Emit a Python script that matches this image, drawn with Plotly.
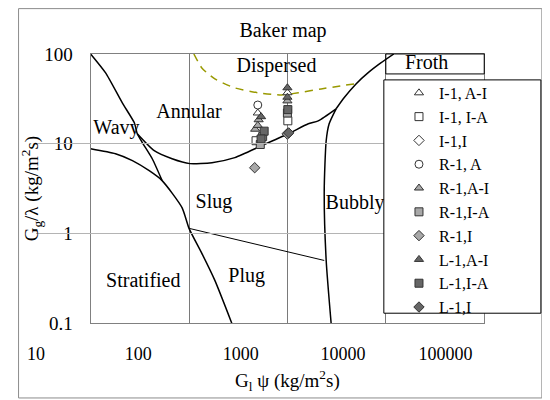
import plotly.graph_objects as go

# ---------------- data ----------------
# Baker map boundary curves  (x = G_l*psi, y = G_g/lambda)
wavy_x = [10, 14.2, 21.0, 27.8, 29.8, 33.5, 42.3, 53.3]
wavy_y = [100, 61.5, 28.5, 17.1, 12.9, 10.3, 6.8, 3.88]

annular_x = [29.8, 44.3, 67.3, 102, 171, 292, 546, 1023, 1630, 2056, 3126]
annular_y = [12.9, 8.36, 6.8, 6.0, 6.15, 7.0, 9.5, 12.9, 16.7, 18.0, 24.5]

strat_x = [10, 17.9, 26.6, 39.4, 53.3, 84.9, 100, 135, 183, 272]
strat_y = [8.8, 7.74, 6.48, 5.0, 3.88, 1.94, 1.14, 0.6, 0.30, 0.1]

plug_x = [100, 2366]
plug_y = [1.14, 0.5]

bubbly_x = [2781, 2477, 2366, 2477, 2655, 3126]
bubbly_y = [0.1, 0.5, 3.0, 10.8, 16.7, 24.5]

froth_x = [3126, 3766, 4977, 6578, 8892, 12050]
froth_y = [24.5, 32.5, 46.4, 61.5, 79.4, 100]

dispersed_x = [112, 135, 183, 292, 509, 869, 1291, 2203, 4754]
dispersed_y = [100, 69.9, 52.7, 41.9, 36.9, 35.0, 36.9, 40.8, 46.4]

# measured points
series_names = ["I-1, A-I", "I-1, I-A", "I-1,I", "R-1, A", "R-1,A-I",
                "R-1,I-A", "R-1,I", "L-1,A-I", "L-1,I-A", "L-1,I"]
series_x = [
    [1000, 500],
    [1010, 480],
    [1000],
    [500],
    [1000, 470, 510, 500],
    [560, 530, 1000],
    [465, 1000],
    [1000, 1000, 540],
    [580, 540, 1010],
    [1030],
]
series_y = [
    [37, 22],
    [18, 10.8],
    [13],
    [27],
    [30, 14.5, 18.5, 16],
    [12, 9.8, 22],
    [5.4, 12.8],
    [42, 33, 20],
    [13.8, 11.3, 24],
    [13.2],
]

# flow-regime labels
region_names = ["Dispersed", "Annular", "Wavy", "Slug", "Bubbly", "Stratified", "Plug", "Froth"]
region_x = [774, 100, 18.3, 179, 4867, 34.3, 385, 26000]
region_y = [71.7, 22.1, 14.7, 2.21, 2.15, 0.285, 0.325, 77.4]

x_tick_vals = [10, 100, 1000, 10000, 100000]
x_tick_labels = ["10", "100", "1000", "10000", "100000"]
y_tick_vals = [0.1, 1, 10, 100]
y_tick_labels = ["0.1", "1", "10", "100"]

# ---------------- styles ----------------
FONT = "Liberation Serif, Times New Roman, serif"
symbols = ["triangle-up", "square", "diamond", "circle", "triangle-up",
           "square", "diamond", "triangle-up", "square", "diamond"]
WHITE, LIGHT, DARK = "#ffffff", "#a8a8a8", "#666666"
fills = [WHITE, WHITE, WHITE, WHITE, LIGHT, LIGHT, LIGHT, DARK, DARK, DARK]

fig = go.Figure()

for cx, cy, w in [(wavy_x, wavy_y, 1.5), (annular_x, annular_y, 1.5),
                  (strat_x, strat_y, 1.5), (plug_x, plug_y, 1.0),
                  (bubbly_x, bubbly_y, 1.5), (froth_x, froth_y, 1.5)]:
    fig.add_trace(go.Scatter(x=cx, y=cy, mode="lines",
                             line=dict(color="black", width=w, shape="spline", smoothing=0.6),
                             showlegend=False, hoverinfo="skip"))
fig.add_trace(go.Scatter(x=dispersed_x, y=dispersed_y, mode="lines",
                         line=dict(color="#999900", width=1.5, dash="8px,6px",
                                   shape="spline", smoothing=0.6),
                         showlegend=False, hoverinfo="skip"))

for i, name in enumerate(series_names):
    fig.add_trace(go.Scatter(
        x=series_x[i], y=series_y[i], mode="markers", name=name,
        legendgroup=f"g{i}",
        marker=dict(symbol=symbols[i], size=8, color=fills[i],
                    line=dict(color="#333333", width=1)),
    ))

# region labels as a text trace
fig.add_trace(go.Scatter(x=region_x, y=region_y, mode="text", text=region_names,
                         textposition="middle center", cliponaxis=False,
                         textfont=dict(family=FONT, size=20, color="black"),
                         showlegend=False, hoverinfo="skip"))

# invisible helper trace so the label axis (x2) is drawn
fig.add_trace(go.Scatter(x=[10], y=[1], xaxis="x2", yaxis="y", mode="markers",
                         marker=dict(opacity=0), showlegend=False, hoverinfo="skip"))

# picture-pixel -> paper-fraction helpers (as the page renders this figure)
L, R, T, B = 10, 10, 40, 20
def px(s):
    return (s - 24.0) / 497.0
def py(s):
    return (387.0 - s) / 340.0

shapes = [
    # outer chart border
    dict(type="rect", xref="paper", yref="paper", x0=px(15.5), x1=px(542), y0=py(398), y1=py(7.5),
         line=dict(color="#8c8c8c", width=1), layer="below"),
    # Froth box
    dict(type="rect", xref="paper", yref="paper", x0=px(385), x1=px(484), y0=py(73), y1=py(53),
         line=dict(color="black", width=1), layer="above"),
    # legend box
    dict(type="rect", xref="paper", yref="paper", x0=px(383), x1=px(541), y0=py(313), y1=py(79),
         line=dict(color="black", width=1), fillcolor="white", layer="above"),
]

fig.update_layout(
    width=550, height=400,
    margin=dict(l=L, r=R, t=T, b=B),
    paper_bgcolor="white", plot_bgcolor="rgba(0,0,0,0)",
    font=dict(family=FONT, color="black"),
    title=dict(text="Baker map", x=0.5, xanchor="center", y=1 - 22 / 400, yanchor="middle",
               font=dict(family=FONT, size=20, color="black")),
    showlegend=True,
    legend=dict(x=0.753, y=py(75), xanchor="left", yanchor="top",
                bgcolor="rgba(0,0,0,0)", borderwidth=0, tracegroupgap=0,
                font=dict(family=FONT, size=16, color="black")),
    shapes=shapes,
    xaxis=dict(type="log", range=[1, 5], domain=[px(88), px(484)],
               tickvals=x_tick_vals, ticktext=x_tick_labels, showticklabels=False,
               showgrid=True, gridcolor="#7a7a7a", gridwidth=1,
               showline=True, linecolor="#808080", linewidth=1, mirror=True,
               zeroline=False, ticks="",
               title=dict(text="G<sub>l</sub> ψ (kg/m<sup>2</sup>s)", standoff=50,
                          font=dict(family=FONT, size=19, color="black"))),
    xaxis2=dict(type="log", range=[1, 5], domain=[px(33), px(445)], anchor="y",
                tickvals=x_tick_vals, ticktext=x_tick_labels,
                showgrid=False, showline=False, zeroline=False, ticks="",
                ticklabelstandoff=18,
                tickfont=dict(family=FONT, size=18, color="black")),
    yaxis=dict(type="log", range=[-1, 2], domain=[py(323), py(53)],
               tickvals=y_tick_vals, ticktext=y_tick_labels,
               showgrid=True, gridcolor="#b4b4b4", gridwidth=1,
               showline=True, linecolor="#808080", linewidth=1, mirror=True,
               zeroline=False, ticks="", ticklabelstandoff=13,
               tickfont=dict(family=FONT, size=19, color="black"),
               title=dict(text="G<sub>g</sub>/λ (kg/m<sup>2</sup>s)", standoff=0,
                          font=dict(family=FONT, size=19, color="black"))),
)

fig.write_html("out.html")
